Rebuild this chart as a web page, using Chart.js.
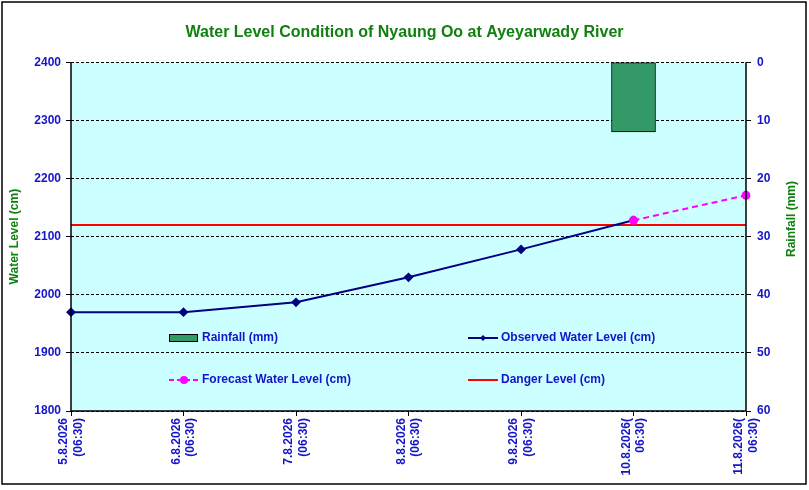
<!DOCTYPE html>
<html><head><meta charset="utf-8">
<script src="https://cdn.jsdelivr.net/npm/chart.js@4.4.1/dist/chart.umd.min.js"></script>
<style>html,body{margin:0;padding:0;background:#fff;}#wrap{width:809px;height:490px;position:relative;}</style>
</head><body><div id="wrap"><canvas id="c"></canvas></div>
<script>
const categories = [
  ["5.8.2026","(06:30)"],
  ["6.8.2026","(06:30)"],
  ["7.8.2026","(06:30)"],
  ["8.8.2026","(06:30)"],
  ["9.8.2026","(06:30)"],
  ["10.8.2026(","06:30)"],
  ["11.8.2026(","06:30)"]
];
const observedLevel = [1970, 1970, 1987, 2030, 2078, 2128, null];
const forecastLevel = [null, null, null, null, null, 2128, 2171];
const dangerLevel = [2120, 2120, 2120, 2120, 2120, 2120, 2120];
const rainfall = [null, null, null, null, null, 12, null];
const waterRange = [1800, 2400];
const rainRange = [0, 60];

const TITLE = "Water Level Condition of Nyaung Oo at Ayeyarwady River";
const RAIN_TITLE = "Rainfall (mm)";
const FONT = "'Liberation Sans', Arial, sans-serif";
const BLUE = "#1414c8";
const GREEN = "#108010";

const legendItems = [
  {text: "Rainfall (mm)", type: "bar", col: 0, row: 0},
  {text: "Observed Water Level (cm)", type: "obs", col: 1, row: 0},
  {text: "Forecast Water Level (cm)", type: "fc", col: 0, row: 1},
  {text: "Danger Level (cm)", type: "danger", col: 1, row: 1}
];

const bgPlugin = {
  id: "bg",
  beforeDraw(chart) {
    const {ctx, chartArea: a, width, height} = chart;
    ctx.save();
    ctx.fillStyle = "#fff";
    ctx.fillRect(0, 0, width, height);
    ctx.fillStyle = "#ccffff";
    ctx.fillRect(a.left, a.top, a.right - a.left, a.bottom - a.top);
    ctx.strokeStyle = "#000";
    ctx.lineWidth = 1.5;
    ctx.strokeRect(2, 2, 804, 482);
    ctx.restore();
  },
  afterDraw(chart) {
    const {ctx, chartArea: a} = chart;
    ctx.save();
    ctx.strokeStyle = "#000";
    ctx.lineWidth = 1.5;
    ctx.beginPath();
    ctx.moveTo(a.left, a.top); ctx.lineTo(a.left, a.bottom); ctx.lineTo(a.right, a.bottom); ctx.lineTo(a.right, a.top);
    ctx.stroke();
    // right axis title (reads bottom to top)
    ctx.save();
    ctx.translate(792, 219);
    ctx.rotate(-Math.PI / 2);
    ctx.font = "bold 12px " + FONT;
    ctx.fillStyle = GREEN;
    ctx.textAlign = "center";
    ctx.textBaseline = "middle";
    ctx.fillText(RAIN_TITLE, 0, 0);
    ctx.restore();
    // legend
    ctx.font = "bold 12px " + FONT;
    ctx.textBaseline = "middle";
    const colX = [169, 468], rowY = [338, 380];
    legendItems.forEach(it => {
      const x = colX[it.col], y = rowY[it.row];
      if (it.type === "bar") {
        ctx.fillStyle = "#339966"; ctx.fillRect(x, y - 4, 28, 7);
        ctx.strokeStyle = "#000"; ctx.lineWidth = 1; ctx.strokeRect(x + 0.5, y - 3.5, 28, 7);
      } else if (it.type === "obs") {
        ctx.strokeStyle = "#000080"; ctx.lineWidth = 2;
        ctx.beginPath(); ctx.moveTo(x, y); ctx.lineTo(x + 30, y); ctx.stroke();
        ctx.fillStyle = "#000080";
        ctx.beginPath(); ctx.moveTo(x + 15, y - 3); ctx.lineTo(x + 18, y); ctx.lineTo(x + 15, y + 3); ctx.lineTo(x + 12, y); ctx.closePath(); ctx.fill();
      } else if (it.type === "fc") {
        ctx.strokeStyle = "#ff00ff"; ctx.lineWidth = 2; ctx.setLineDash([5, 3]);
        ctx.beginPath(); ctx.moveTo(x, y); ctx.lineTo(x + 30, y); ctx.stroke(); ctx.setLineDash([]);
        ctx.fillStyle = "#ff00ff";
        ctx.beginPath(); ctx.arc(x + 15, y, 4, 0, Math.PI * 2); ctx.fill();
      } else {
        ctx.strokeStyle = "#ff0000"; ctx.lineWidth = 2;
        ctx.beginPath(); ctx.moveTo(x, y); ctx.lineTo(x + 30, y); ctx.stroke();
      }
      ctx.fillStyle = BLUE;
      ctx.textAlign = "left";
      ctx.fillText(it.text, x + 33, y);
    });
    ctx.restore();
  }
};

new Chart(document.getElementById("c"), {
  type: "bar",
  data: {
    labels: categories,
    datasets: [
      {type: "bar", label: "Rainfall (mm)", data: rainfall, yAxisID: "y2", backgroundColor: "#339966", borderColor: "#000", borderWidth: 1, barThickness: 44, order: 4, borderSkipped: false},
      {type: "line", label: "Danger Level (cm)", data: dangerLevel, yAxisID: "y", borderColor: "#ff0000", borderWidth: 2, pointRadius: 0, order: 3},
      {type: "line", label: "Observed Water Level (cm)", data: observedLevel, yAxisID: "y", borderColor: "#000080", backgroundColor: "#000080", borderWidth: 2, pointStyle: "rectRot", pointRadius: 3.5, order: 2},
      {type: "line", label: "Forecast Water Level (cm)", data: forecastLevel, yAxisID: "y", borderColor: "#ff00ff", backgroundColor: "#ff00ff", borderWidth: 2, borderDash: [6, 4], pointStyle: "circle", pointRadius: 4.5, pointBorderWidth: 0, order: 1}
    ]
  },
  options: {
    responsive: true, maintainAspectRatio: false, animation: false,
    layout: {padding: {left: 0, right: 0, top: 0, bottom: 0}},
    plugins: {
      legend: {display: false},
      tooltip: {enabled: false},
      title: {display: true, text: TITLE, color: GREEN, font: {family: FONT, size: 16, weight: "bold"}, padding: {top: 23, bottom: 20}}
    },
    scales: {
      x: {
        offset: false,
        grid: {display: true, offset: false, drawOnChartArea: false, drawTicks: true, tickLength: 5, color: "#000"},
        border: {display: false},
        ticks: {color: BLUE, font: {family: FONT, size: 12, weight: "bold"}, maxRotation: 90, minRotation: 90, autoSkip: false, padding: 2, labelOffset: -7},
        afterFit(s) { s.height = 79; }
      },
      y: {
        position: "left", min: waterRange[0], max: waterRange[1],
        ticks: {stepSize: 100, color: BLUE, font: {family: FONT, size: 12, weight: "bold"}, padding: 5, callback: v => String(v)},
        grid: {color: "#000", lineWidth: 1, tickLength: 5, drawTicks: true, tickBorderDash: [0, 0]},
        border: {display: false, dash: [3, 2]},
        title: {display: true, text: "Water Level (cm)", color: GREEN, font: {family: FONT, size: 12, weight: "bold"}, padding: {top: 7, bottom: 0}},
        afterFit(s) { s.width = 71; }
      },
      y2: {
        position: "right", min: rainRange[0], max: rainRange[1], reverse: true,
        ticks: {stepSize: 10, color: BLUE, font: {family: FONT, size: 12, weight: "bold"}, padding: 6, callback: v => String(v)},
        grid: {drawOnChartArea: false, color: "#000", tickLength: 5},
        border: {display: false},
        title: {display: false},
        afterFit(s) { s.width = 63; }
      }
    }
  },
  plugins: [bgPlugin]
});
</script>
</body></html>
